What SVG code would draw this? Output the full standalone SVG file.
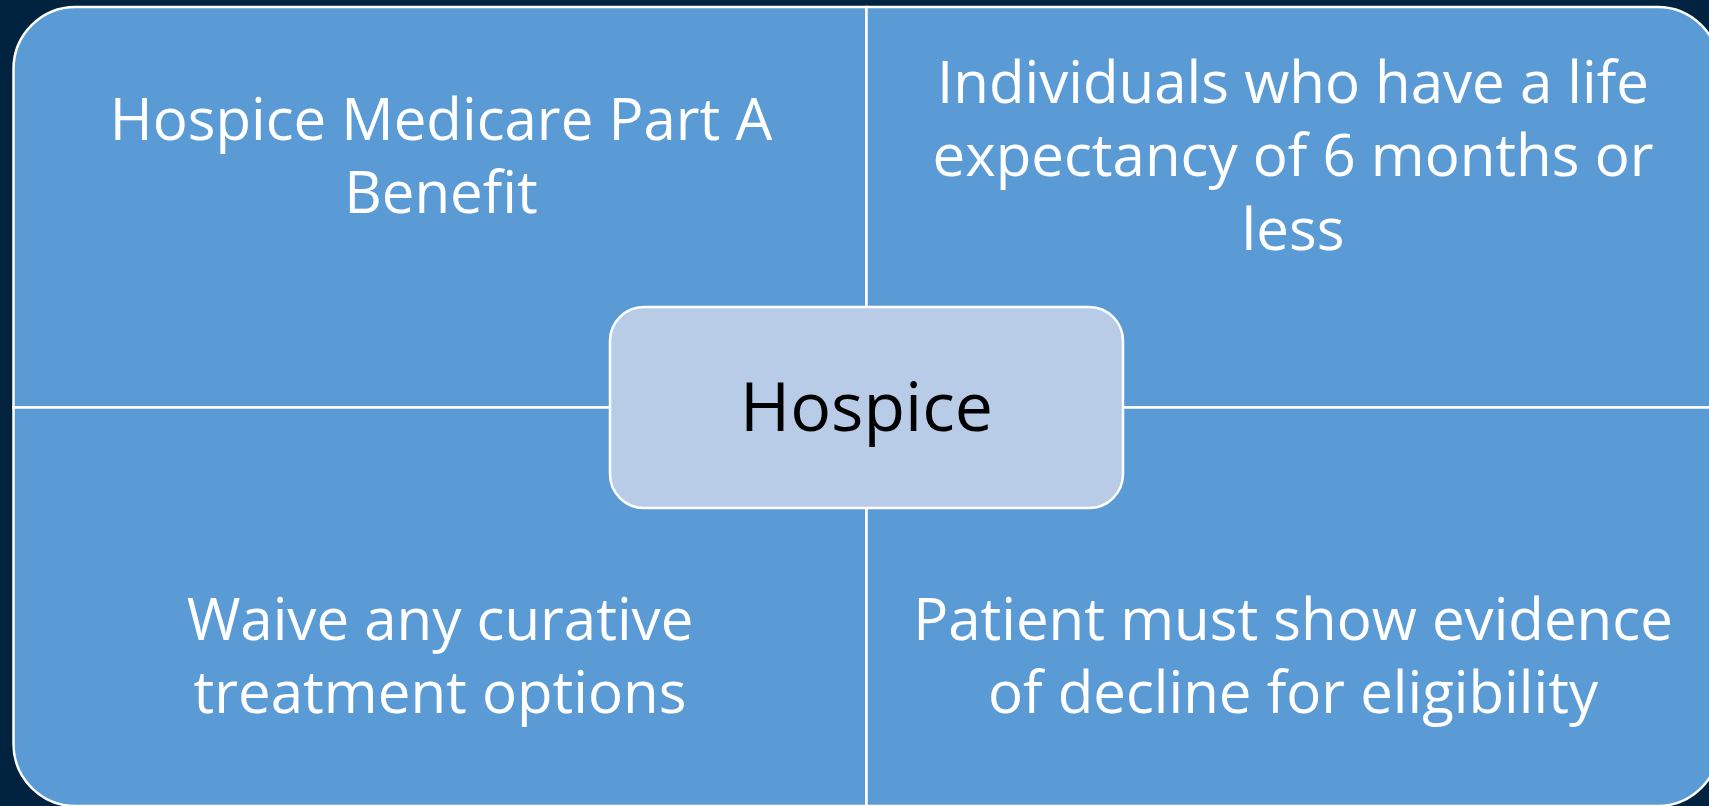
<svg xmlns="http://www.w3.org/2000/svg" width="1709" height="806" viewBox="0 0 1709 806">
  <style>
    .quad { fill: #5B9BD5; stroke: #FFFFFF; stroke-width: 2.5; }
    .qtext { font-family: "Open Sans", "Noto Sans", sans-serif; font-size: 58.2px; fill: #FFFFFF; text-anchor: middle; }
    .center { fill: #B8CCE8; stroke: #FFFFFF; stroke-width: 2.5; }
    .ctext { font-family: "Open Sans", "Noto Sans", sans-serif; font-size: 68px; fill: #000000; text-anchor: middle; }
  </style>
  <rect x="0" y="0" width="1709" height="806" fill="#02233F"/>
  <g id="connectors"></g>
  <g id="node-top-left">
    <path class="quad" d="M 13.5,407.5 V 69 A 62 62 0 0 1 75.5,7 H 866.5 V 407.5 Z"/>
    <text class="qtext" x="441" y="139.5">Hospice Medicare Part A</text>
    <text class="qtext" x="441" y="212.5">Benefit</text>
  </g>
  <g id="node-top-right">
    <path class="quad" d="M 866.5,7 H 1657.5 A 62 62 0 0 1 1719.5,69 V 407.5 H 866.5 Z"/>
    <text class="qtext" x="1293" y="102.5">Individuals who have a life</text>
    <text class="qtext" x="1293" y="176">expectancy of 6 months or</text>
    <text class="qtext" x="1293" y="249.5">less</text>
  </g>
  <g id="node-bottom-left">
    <path class="quad" d="M 13.5,407.5 H 866.5 V 806 H 75.5 A 62 62 0 0 1 13.5,744 Z"/>
    <text class="qtext" x="440" y="640">Waive any curative</text>
    <text class="qtext" x="440" y="713">treatment options</text>
  </g>
  <g id="node-bottom-right">
    <path class="quad" d="M 866.5,407.5 H 1719.5 V 744 A 62 62 0 0 1 1657.5,806 H 866.5 Z"/>
    <text class="qtext" x="1293" y="640">Patient must show evidence</text>
    <text class="qtext" x="1293" y="713">of decline for eligibility</text>
  </g>
  <g id="node-center">
    <rect class="center" x="610" y="307" width="513" height="201" rx="34" ry="34"/>
    <text class="ctext" x="866.5" y="431">Hospice</text>
  </g>
</svg>
